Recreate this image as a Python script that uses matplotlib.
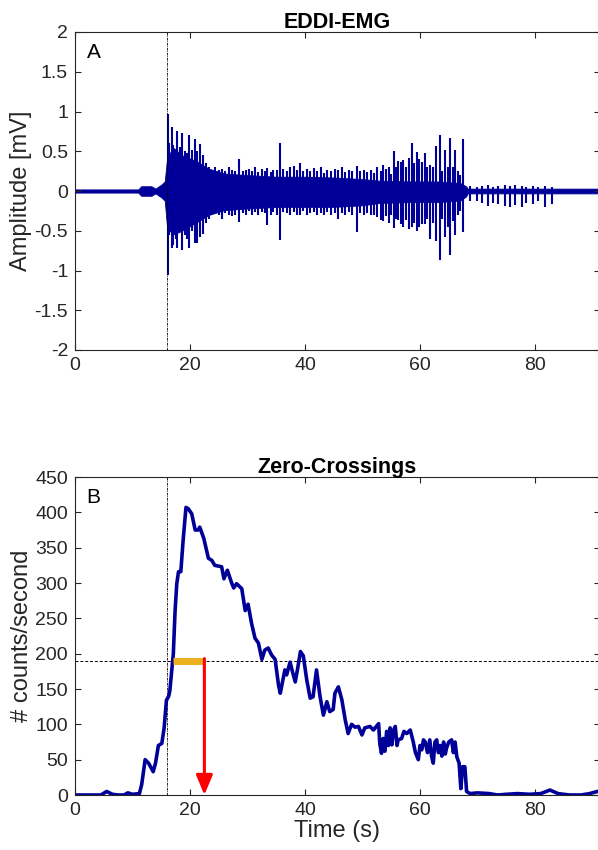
import matplotlib
matplotlib.use("Agg")
import matplotlib.pyplot as plt
from matplotlib.ticker import FuncFormatter
import numpy as np

plt.rcParams['font.family'] = ['Liberation Sans', 'DejaVu Sans']

# --- EMG (panel A): dense core envelope + individual spikes ---
core_t = [0, 11, 11.5, 13.3, 14, 15, 15.6, 16, 17, 18.6, 21, 23.3, 26, 30, 35, 40, 45, 50, 53, 58, 63, 67, 68, 68.3, 75, 85, 91.3]
core_hi = [0.02, 0.02, 0.06, 0.06, 0.03, 0.08, 0.12, 0.4, 0.55, 0.45, 0.38, 0.28, 0.22, 0.2, 0.18, 0.18, 0.17, 0.15, 0.13, 0.12, 0.12, 0.1, 0.06, 0.03, 0.03, 0.03, 0.03]
core_lo = [-0.02, -0.02, -0.06, -0.06, -0.03, -0.08, -0.12, -0.45, -0.55, -0.5, -0.4, -0.3, -0.24, -0.22, -0.2, -0.2, -0.2, -0.18, -0.15, -0.14, -0.14, -0.12, -0.07, -0.03, -0.03, -0.03, -0.03]

spike_t = [16.1, 16.4, 16.8, 17.1, 17.5, 17.8, 18.2, 18.6, 19.1, 19.5, 19.9, 20.3, 20.9, 21.3, 21.7,
           22.3, 22.8, 23.3, 23.9, 24.4, 25.0, 25.5, 26.1, 26.7, 27.3, 27.9, 28.6, 29.2, 29.8, 30.3,
           30.7, 31.3, 31.9, 32.5, 33.0, 33.4, 34.0, 34.5, 35.1, 35.7, 36.2, 36.8, 37.4, 38.0, 38.6,
           39.1, 39.7, 40.3, 40.9, 41.5, 42.1, 42.7, 43.3, 43.9, 44.5, 45.2, 45.8, 46.4, 47.0, 47.6,
           48.2, 49.0, 49.6, 50.2, 50.8, 51.4, 52.0, 52.6, 53.2, 53.6, 54.1, 54.6, 55.0, 55.5, 55.9,
           56.2, 56.7, 57.1, 57.6, 58.0, 58.6, 59.0, 59.4, 59.8, 60.4, 60.9, 61.3, 61.7, 62.2, 62.8,
           63.5, 63.9, 64.3, 64.8, 65.2, 65.7, 66.1, 66.6, 67.0, 67.4,
           68.7, 69.9, 70.7, 71.9, 72.7, 73.6, 74.8, 75.7, 76.5, 77.7, 78.5, 79.7, 80.6, 81.7, 82.9]
spike_hi = [0.97, 0.6, 0.81, 0.58, 0.5, 0.76, 0.55, 0.73, 0.5, 0.48, 0.71, 0.52, 0.66, 0.5, 0.59,
            0.45, 0.35, 0.3, 0.27, 0.3, 0.26, 0.28, 0.25, 0.3, 0.27, 0.25, 0.4, 0.25, 0.27, 0.28,
            0.25, 0.3, 0.24, 0.28, 0.25, 0.29, 0.24, 0.27, 0.26, 0.6, 0.28, 0.25, 0.3, 0.31, 0.27,
            0.35, 0.25, 0.28, 0.25, 0.29, 0.25, 0.3, 0.23, 0.27, 0.25, 0.28, 0.26, 0.3, 0.24, 0.27,
            0.25, 0.31, 0.25, 0.27, 0.24, 0.26, 0.23, 0.3, 0.25, 0.33, 0.28, 0.3, 0.22, 0.5, 0.3,
            0.38, 0.36, 0.39, 0.3, 0.42, 0.6, 0.35, 0.49, 0.4, 0.36, 0.48, 0.3, 0.33, 0.3, 0.56,
            0.7, 0.25, 0.52, 0.3, 0.67, 0.3, 0.52, 0.25, 0.2, 0.66,
            0.06, 0.05, 0.06, 0.07, 0.05, 0.06, 0.07, 0.06, 0.07, 0.06, 0.05, 0.06, 0.05, 0.06, 0.05]
spike_lo = [-1.06, -0.55, -0.72, -0.68, -0.6, -0.72, -0.5, -0.74, -0.55, -0.6, -0.72, -0.5, -0.66, -0.66, -0.58,
            -0.54, -0.4, -0.35, -0.3, -0.28, -0.3, -0.35, -0.28, -0.3, -0.32, -0.3, -0.39, -0.28, -0.3, -0.25,
            -0.3, -0.27, -0.3, -0.26, -0.28, -0.43, -0.3, -0.27, -0.3, -0.62, -0.27, -0.28, -0.3, -0.27, -0.3,
            -0.3, -0.25, -0.3, -0.28, -0.27, -0.3, -0.28, -0.3, -0.26, -0.3, -0.28, -0.35, -0.28, -0.3, -0.27,
            -0.3, -0.51, -0.28, -0.3, -0.28, -0.3, -0.3, -0.33, -0.36, -0.38, -0.32, -0.4, -0.3, -0.46, -0.35,
            -0.36, -0.42, -0.45, -0.36, -0.48, -0.45, -0.4, -0.5, -0.45, -0.42, -0.41, -0.35, -0.6, -0.4, -0.63,
            -0.87, -0.35, -0.58, -0.45, -0.8, -0.38, -0.55, -0.3, -0.25, -0.51,
            -0.12, -0.13, -0.15, -0.19, -0.15, -0.16, -0.19, -0.2, -0.17, -0.2, -0.15, -0.16, -0.12, -0.2, -0.16]

# --- Zero-crossings (panel B) ---
zc_t = [0, 4.5, 5.5, 6.5, 7.5, 8.5, 9.2, 10, 11.2, 11.6, 12.2, 12.8, 13.6, 14.0, 14.5, 15.1, 15.5, 15.9,
        16.3, 16.5, 17.1, 17.4, 17.7, 18.0, 18.4, 18.8, 19.3, 19.7, 20.3, 20.9, 21.4, 21.7, 22.4, 23.2,
        23.8, 24.3, 25.5, 25.9, 26.5, 27.2, 27.6, 28.1, 29.0, 29.6, 30.1, 30.7, 31.3, 31.9, 32.5, 33.0,
        33.6, 34.2, 34.8, 35.4, 35.7, 36.2, 36.5, 36.8, 37.4, 37.8, 38.3, 38.7, 39.2, 39.7, 40.3, 40.9,
        41.4, 42.0, 42.6, 43.2, 43.8, 44.3, 44.9, 45.2, 45.8, 46.4, 47.0, 47.5, 48.1, 48.7, 49.3, 49.9,
        50.4, 51.3, 51.9, 52.8, 53.0, 53.3, 53.6, 53.9, 54.2, 54.5, 54.8, 55.1, 55.4, 55.7, 56.0, 56.2,
        56.8, 57.2, 57.7, 58.3, 58.8, 59.2, 59.7, 60.0, 60.3, 60.6, 60.9, 61.3, 61.7, 62.0, 62.3, 62.6,
        62.9, 63.2, 63.5, 63.8, 64.1, 64.4, 64.6, 65.0, 65.5, 65.8, 66.1, 66.4, 66.8, 67.1, 67.4, 67.8,
        68.1, 68.7, 70, 72, 73.5, 75, 77, 79, 81, 82.6, 84, 86, 88, 89.5, 90.4, 91.3]
zc_v = [0, 0, 5, 1, 0, 0, 3, 1, 2, 15, 50, 45, 33, 45, 70, 73, 95, 134,
        140, 148, 200, 260, 299, 316, 316, 360, 407, 405, 398, 375, 375, 379, 363, 335,
        332, 325, 323, 306, 318, 301, 293, 299, 292, 261, 270, 243, 222, 215, 192, 205,
        208, 198, 192, 155, 144, 165, 177, 170, 188, 175, 160, 178, 203, 197, 163, 137,
        139, 177, 140, 113, 132, 118, 121, 144, 153, 135, 106, 87, 100, 96, 97, 85,
        95, 97, 92, 101, 73, 59, 80, 62, 90, 70, 95, 71, 92, 97, 70, 78,
        80, 90, 87, 92, 76, 60, 50, 70, 64, 78, 75, 60, 78, 55, 45, 75,
        78, 60, 70, 55, 75, 58, 66, 75, 78, 60, 75, 54, 45, 9, 40, 40,
        5, 2, 3, 2, 0, 1, 2, 1, 2, 7, 2, 0, 0, 2, 4, 6]

onset_t = 16
threshold = 190
bar_t = [17.0, 22.5]

navy = '#000099'
axis_grey = '#262626'

fig = plt.figure(figsize=(5.98, 8.5), dpi=100)
ax1 = fig.add_axes([75 / 598, 1 - 350 / 850, 525 / 598, 318 / 850])
ax2 = fig.add_axes([75 / 598, 1 - 795 / 850, 525 / 598, 318 / 850])

fmt = FuncFormatter(lambda v, p: '%g' % v)

for ax in (ax1, ax2):
    ax.set_xlim(0, 91.3)
    ax.set_xticks([0, 20, 40, 60, 80])
    ax.tick_params(direction='in', top=True, right=True, length=4, width=0.8,
                   labelsize=14, colors=axis_grey, labelcolor=axis_grey, pad=5)
    for s in ax.spines.values():
        s.set_color(axis_grey)
        s.set_linewidth(0.8)
    ax.yaxis.set_major_formatter(fmt)

# panel A
ax1.fill_between(core_t, core_lo, core_hi, color=navy, lw=0.6)
ax1.vlines(spike_t, spike_lo, spike_hi, color=navy, lw=1.5)
ax1.axvline(onset_t, color='black', lw=0.6, ls=(0, (3, 1, 1, 1)))
ax1.set_ylim(-2, 2)
ax1.set_yticks(np.arange(-2, 2.01, 0.5))
ax1.set_ylabel('Amplitude [mV]', fontsize=17, color=axis_grey, labelpad=2)
ax1.set_title('EDDI-EMG', fontsize=15.5, fontweight='bold', pad=3)
ax1.text(0.022, 0.965, 'A', transform=ax1.transAxes, fontsize=15, va='top', ha='left')

# panel B
ax2.axhline(threshold, color='black', lw=0.7, ls=(0, (3, 2)))
ax2.axvline(onset_t, color='black', lw=0.6, ls=(0, (3, 1, 1, 1)))
ax2.plot(zc_t, zc_v, color=navy, lw=2.6, solid_joinstyle='round')
ax2.plot(bar_t, [threshold, threshold], color='#EDB120', lw=5, solid_capstyle='butt', zorder=4)
ax2.annotate('', xy=(bar_t[1], 0), xytext=(bar_t[1], threshold + 3),
             arrowprops=dict(arrowstyle='-|>,head_length=1.2,head_width=0.5', color='red',
                             lw=2.2, shrinkA=0, shrinkB=0), zorder=5)
ax2.set_ylim(0, 450)
ax2.set_yticks(np.arange(0, 451, 50))
ax2.set_ylabel('# counts/second', fontsize=17, color=axis_grey, labelpad=2)
ax2.set_xlabel('Time (s)', fontsize=17, color=axis_grey, labelpad=1)
ax2.set_title('Zero-Crossings', fontsize=15.5, fontweight='bold', pad=3)
ax2.text(0.022, 0.965, 'B', transform=ax2.transAxes, fontsize=15, va='top', ha='left')

fig.savefig('out.png', dpi=100)
